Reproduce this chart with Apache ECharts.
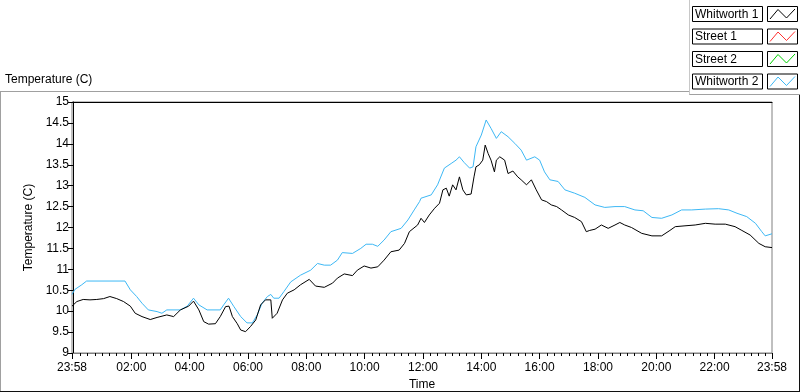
<!DOCTYPE html>
<html><head><meta charset="utf-8">
<script src="https://cdn.jsdelivr.net/npm/echarts@6/dist/echarts.min.js"></script>
<style>html,body{margin:0;padding:0;background:#fff}#c{width:800px;height:392px}</style>
</head><body><div id="c"></div>
<script>
// times in minutes since midnight (-2 = 23:58 of previous day, 1438 = 23:58)
const seriesNames = ['Whitworth 1', 'Street 1', 'Street 2', 'Whitworth 2'];
const seriesColors = ['#000000', '#ff3030', '#00d000', '#3db8f5'];
const majorTicks = [-2, 120, 240, 360, 480, 600, 720, 840, 960, 1080, 1200, 1320, 1438];
const tickLabels = ['23:58','02:00','04:00','06:00','08:00','10:00','12:00','14:00','16:00','18:00','20:00','22:00','23:58'];
const yTicks = [9, 9.5, 10, 10.5, 11, 11.5, 12, 12.5, 13, 13.5, 14, 14.5, 15];

const w1Time = [-2,8,21,35,49,63,76,90,104,118,128,142,159,173,193,207,221,238,248,259,269,279,293,303,314,321,328,338,345,355,365,376,386,396,407,410,420,431,441,455,468,486,499,517,534,544,558,575,585,599,613,627,640,654,671,682,692,709,
716,723,733,744,754,761,768,774,781,788,795,802,809,819,825,829,836,843,848,854,860,867,871,878,888,895,905,915,922,933,943,953,964,974,984,995,1005,1019,1032,1046,1056,1063,1074,1087,1101,1115,1125,1135,1149,1170,1191,1211,1228,1239,1259,1280,1301,1321,1342,1362,1376,1393,1411,1424,1438];
const w1Temp = [10.12,10.23,10.28,10.27,10.28,10.30,10.35,10.30,10.23,10.12,9.95,9.87,9.80,9.85,9.91,9.87,10.03,10.12,10.24,10.03,9.75,9.69,9.70,9.87,10.11,10.12,9.87,9.70,9.55,9.51,9.63,9.79,10.15,10.27,10.27,9.83,9.95,10.27,10.43,10.51,10.63,10.76,10.60,10.57,10.67,10.79,10.89,10.85,10.98,11.08,11.03,11.06,11.22,11.42,11.46,11.62,11.90,12.06,
12.22,12.12,12.30,12.46,12.58,12.90,12.94,12.75,13.02,12.90,13.21,12.90,12.78,12.80,13.21,13.45,13.50,13.61,13.97,13.77,13.61,13.33,13.61,13.69,13.61,13.29,13.35,13.21,13.14,13.02,13.14,12.90,12.66,12.62,12.54,12.50,12.42,12.30,12.24,12.14,11.90,11.93,11.96,12.06,11.98,12.06,12.12,12.06,12.00,11.86,11.80,11.80,11.93,12.02,12.04,12.06,12.10,12.08,12.08,12.02,11.93,11.82,11.62,11.54,11.52];

const w2Time = [-2,1,4,18,28,107,118,131,142,155,173,183,193,221,235,248,259,276,303,310,320,331,345,358,369,379,389,400,407,413,424,434,448,468,489,503,517,530,544,554,575,592,603,616,627,640,654,675,689,702,713,
716,737,750,764,778,788,795,805,816,823,829,840,850,860,871,881,895,909,922,933,950,960,970,981,998,1012,1032,1053,1074,1094,1115,1135,1156,1173,1191,1211,1232,1252,1273,1301,1328,1349,1366,1386,1404,1417,1424,1438];
const w2Temp = [10.40,10.40,10.52,10.63,10.72,10.72,10.51,10.35,10.19,10.03,9.99,9.95,10.03,10.03,10.12,10.31,10.15,10.03,10.03,10.15,10.31,10.11,9.87,9.72,9.72,9.91,10.19,10.35,10.40,10.31,10.31,10.47,10.70,10.86,10.98,11.14,11.10,11.10,11.22,11.40,11.38,11.50,11.60,11.60,11.55,11.70,11.90,11.98,12.18,12.42,12.62,
12.70,12.78,13.02,13.42,13.53,13.61,13.69,13.55,13.42,13.45,13.93,14.21,14.57,14.37,14.13,14.29,14.17,14.01,13.85,13.61,13.69,13.61,13.33,13.14,13.10,12.90,12.82,12.72,12.54,12.48,12.50,12.50,12.42,12.40,12.24,12.22,12.30,12.42,12.42,12.44,12.45,12.42,12.34,12.26,12.10,11.90,11.80,11.85];

const seriesData = [
  w1Time.map((t, i) => [t, w1Temp[i]]),
  [],
  [],
  w2Time.map((t, i) => [t, w2Temp[i]])
];

const minorTicks = [];
for (let m = 15; m < 1438; m += 15) { if (m % 120 !== 0) minorTicks.push(m); }

const FONT = 'Liberation Sans, Arial, sans-serif';
const chart = echarts.init(document.getElementById('c'), null, {renderer: 'canvas'});

// legend graphic
const legendGraphic = [];
const rowTops = [6, 28.5, 51, 73.5];
seriesNames.forEach((name, i) => {
  const top = rowTops[i];
  legendGraphic.push({type: 'rect', shape: {x: 692.5, y: top + 0.5, width: 70, height: 15}, style: {fill: '#fff', stroke: '#000', lineWidth: 1}, silent: true});
  legendGraphic.push({type: 'text', x: 695, y: top + 8.5, style: {text: name, font: '12px ' + FONT, fill: '#000', textVerticalAlign: 'middle'}, silent: true});
  legendGraphic.push({type: 'rect', shape: {x: 767.5, y: top + 0.5, width: 30, height: 15}, style: {fill: '#fff', stroke: '#000', lineWidth: 1}, silent: true});
  legendGraphic.push({type: 'polyline', shape: {points: [[770, top + 13], [778, top + 3.5], [786.5, top + 12], [795, top + 3]]}, style: {stroke: seriesColors[i], lineWidth: 1, fill: null}, silent: true});
});

const frameGraphic = [
  {type: 'line', shape: {x1: 0, y1: 91.5, x2: 690, y2: 91.5}, style: {stroke: '#a0a0a0', lineWidth: 1}, silent: true},
  {type: 'line', shape: {x1: 0.5, y1: 91.5, x2: 0.5, y2: 391}, style: {stroke: '#a0a0a0', lineWidth: 1}, silent: true},
  {type: 'line', shape: {x1: 0, y1: 391.5, x2: 800, y2: 391.5}, style: {stroke: '#101010', lineWidth: 1}, silent: true},
  {type: 'line', shape: {x1: 799.5, y1: 95, x2: 799.5, y2: 392}, style: {stroke: '#101010', lineWidth: 1}, silent: true},
  {type: 'line', shape: {x1: 689.5, y1: 0, x2: 689.5, y2: 95}, style: {stroke: '#c8c8c8', lineWidth: 1}, silent: true},
  {type: 'line', shape: {x1: 689.5, y1: 94.5, x2: 800, y2: 94.5}, style: {stroke: '#a0a0a0', lineWidth: 1}, silent: true},
  {type: 'text', x: 5, y: 80, style: {text: 'Temperature (C)', font: '12px ' + FONT, fill: '#000', textVerticalAlign: 'middle'}, silent: true}
];

function fmtTime(v) {
  const idx = majorTicks.indexOf(v);
  return idx >= 0 ? tickLabels[idx] : '';
}

chart.setOption({
  animation: false,
  backgroundColor: '#fff',
  textStyle: {fontFamily: FONT},
  grid: {left: 72, right: 28, top: 102, bottom: 39, containLabel: false, outerBoundsMode: 'none', show: true, borderColor: '#808080', borderWidth: 1, backgroundColor: '#fff'},
  xAxis: [
    {
      type: 'value', min: -2, max: 1438, position: 'bottom',
      axisLine: {show: true, lineStyle: {color: '#808080', width: 1}},
      axisTick: {show: true, customValues: majorTicks, length: 6, lineStyle: {color: '#000', width: 1}},
      axisLabel: {show: true, customValues: majorTicks, formatter: fmtTime, color: '#000', fontSize: 12, fontFamily: FONT, margin: 9},
      splitLine: {show: false},
      name: 'Time', nameLocation: 'middle', nameGap: 26,
      nameTextStyle: {color: '#000', fontSize: 12, fontFamily: FONT}
    },
    {
      type: 'value', min: -2, max: 1438, position: 'bottom',
      axisLine: {show: false},
      axisTick: {show: true, customValues: minorTicks, length: 3, lineStyle: {color: '#000', width: 1}},
      axisLabel: {show: false},
      splitLine: {show: false}
    },
    {
      type: 'value', min: -2, max: 1438, position: 'top',
      axisLine: {show: true, lineStyle: {color: '#000', width: 1}},
      axisTick: {show: false}, axisLabel: {show: false}, splitLine: {show: false}
    }
  ],
  yAxis: [
    {
      type: 'value', min: 9, max: 15, interval: 0.5,
      axisLine: {show: true, lineStyle: {color: '#000', width: 1}},
      axisTick: {show: true, length: 5, lineStyle: {color: '#000', width: 1}},
      axisLabel: {color: '#000', fontSize: 12, fontFamily: FONT, margin: 3},
      splitLine: {show: false},
      name: 'Temperature (C)', nameLocation: 'middle', nameGap: 29,
      nameTextStyle: {color: '#000', fontSize: 12, fontFamily: FONT}
    }
  ],
  series: seriesNames.map((name, i) => ({
    name: name, type: 'line', xAxisIndex: 0, yAxisIndex: 0,
    data: seriesData[i], showSymbol: false, symbol: 'none',
    lineStyle: {color: seriesColors[i], width: 1}, itemStyle: {color: seriesColors[i]},
    z: i === 0 ? 4 : 3
  })),
  graphic: frameGraphic.concat(legendGraphic)
});
</script></body></html>
